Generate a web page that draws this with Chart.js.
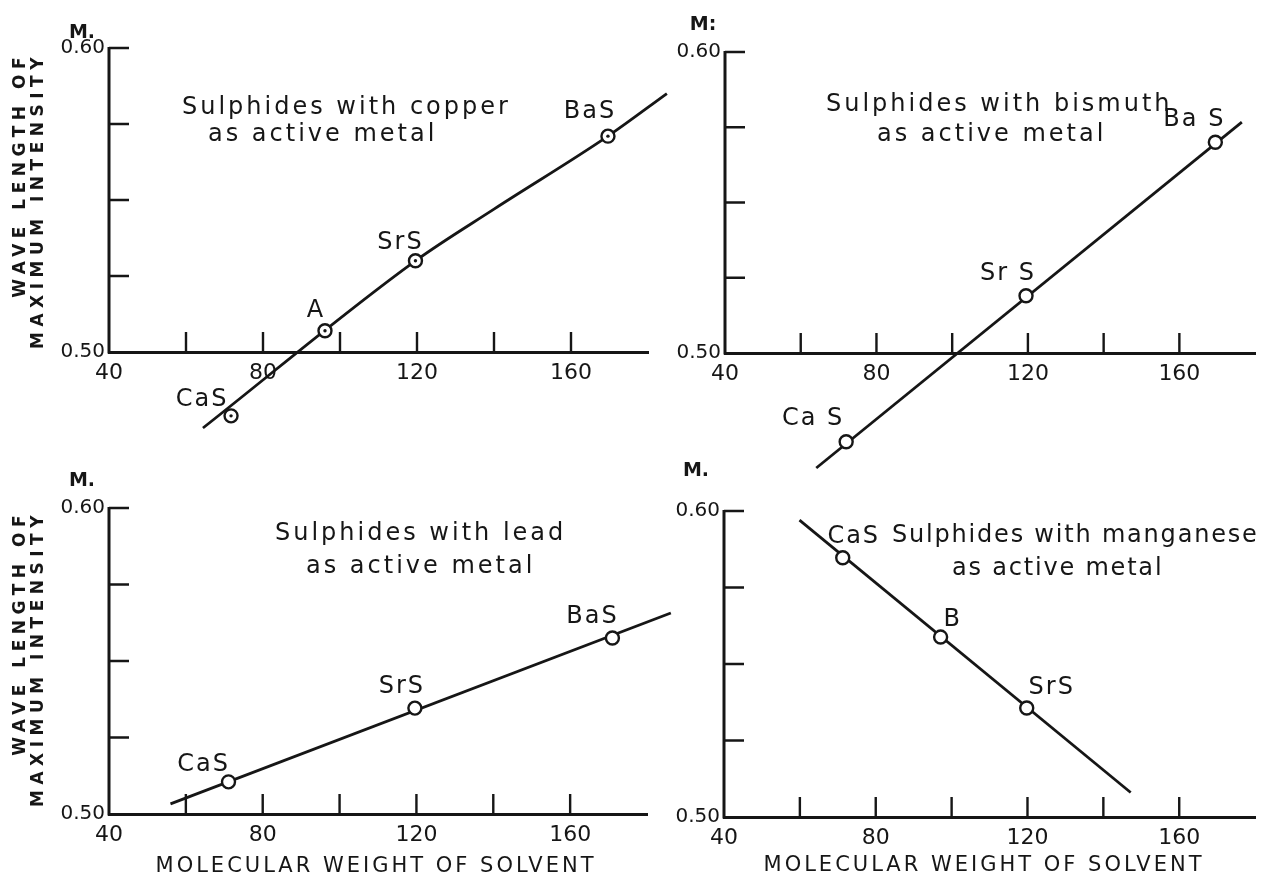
<!DOCTYPE html>
<html lang="en">
<head>
<meta charset="utf-8">
<title>Sulphide phosphors: wave length of maximum intensity</title>
<script src="https://cdn.jsdelivr.net/npm/chart.js@4.4.1/dist/chart.umd.min.js"></script>
<style>
  html, body { margin: 0; padding: 0; background: #fff; overflow: hidden; }
  #sheet { position: relative; width: 1264px; height: 880px; }
  #sheet canvas { position: absolute; left: 0; top: 0; }
</style>
</head>
<body>
<div id="sheet">
  <canvas id="copper" width="1264" height="880"></canvas>
  <canvas id="bismuth" width="1264" height="880"></canvas>
  <canvas id="lead" width="1264" height="880"></canvas>
  <canvas id="manganese" width="1264" height="880"></canvas>
</div>
<script>
// ---- axes -------------------------------------------------------------
// x: molecular weight of the solvent sulphide
const weightMin = 40;
const weightMax = 180;
const weightStep = 20;
const weightLabels = [40, 80, 120, 160];
// y: wave length of maximum intensity, in microns
const waveMin = 0.50;
const waveMax = 0.60;
const waveStep = 0.025;
const waveLabels = [0.50, 0.60];

// ---- copper as active metal ---------------------------------------------
const copperNames = ['CaS', 'A', 'SrS', 'BaS'];
const copperWeights = [71.7, 96.1, 119.6, 169.6];
const copperWaves = [0.479, 0.507, 0.530, 0.571];
const copperCurveWeights = [64.4, 119.6, 140.0, 169.6, 184.9];
const copperCurveWaves = [0.475, 0.530, 0.547, 0.571, 0.585];

// ---- bismuth as active metal --------------------------------------------
const bismuthNames = ['Ca S', 'Sr S', 'Ba S'];
const bismuthWeights = [72.0, 119.5, 169.5];
const bismuthWaves = [0.4705, 0.519, 0.570];
const bismuthCurveWeights = [64.1, 176.5];
const bismuthCurveWaves = [0.4618, 0.5767];

// ---- lead as active metal -----------------------------------------------
const leadNames = ['CaS', 'SrS', 'BaS'];
const leadWeights = [71.1, 119.6, 171.0];
const leadWaves = [0.5105, 0.5346, 0.5575];
const leadCurveWeights = [56.0, 186.2];
const leadCurveWaves = [0.5033, 0.5657];

// ---- manganese as active metal ------------------------------------------
const manganeseNames = ['CaS', 'B', 'SrS'];
const manganeseWeights = [71.3, 97.1, 119.8];
const manganeseWaves = [0.5847, 0.5588, 0.5356];
const manganeseCurveWeights = [59.9, 147.2];
const manganeseCurveWaves = [0.597, 0.508];

// ---- drawing setup ----------------------------------------------------
const INK = '#161616';
const FONT = "'DejaVu Sans', 'Liberation Sans', Arial, sans-serif";
const SHEET_W = 1264;
const SHEET_H = 880;
const Y_SCALE_W = 60;

const near = (a, b) => Math.abs(a - b) < 1e-6;

// Inner tick marks, the wave-length spine and all the lettering.
const sheetArt = {
  id: 'sheetArt',
  beforeDatasetsDraw(chart, _args, o) {
    const { ctx, scales: { x, y } } = chart;
    const x0 = x.getPixelForValue(weightMin);
    const yBase = y.getPixelForValue(waveMin);
    const yTop = y.getPixelForValue(waveMax);
    ctx.save();
    ctx.strokeStyle = INK;
    ctx.lineWidth = 3;
    ctx.beginPath();
    ctx.moveTo(x0, yBase + 1.5);
    ctx.lineTo(x0, yTop - 1);
    ctx.stroke();
    ctx.lineWidth = 2.4;
    ctx.beginPath();
    x.ticks.forEach(t => {
      if (t.value > weightMin + 1e-6 && t.value < weightMax - 1e-6) {
        const px = x.getPixelForValue(t.value);
        ctx.moveTo(px, yBase);
        ctx.lineTo(px, yBase - o.tickLength);
      }
    });
    y.ticks.forEach(t => {
      if (t.value > waveMin + 1e-6 && t.value < waveMax + 1e-6) {
        const py = y.getPixelForValue(t.value);
        ctx.moveTo(x0, py);
        ctx.lineTo(x0 + o.tickLength, py);
      }
    });
    ctx.stroke();
    ctx.restore();
  },
  afterDraw(chart, _args, o) {
    const { ctx, scales: { x, y } } = chart;
    const x0 = x.getPixelForValue(weightMin);
    const yBase = y.getPixelForValue(waveMin);
    const yTop = y.getPixelForValue(waveMax);
    ctx.save();
    ctx.fillStyle = INK;

    // unit mark above the wave-length axis
    ctx.font = `bold 19px ${FONT}`;
    ctx.textAlign = 'center';
    ctx.textBaseline = 'middle';
    ctx.fillText(o.unit, x0 + o.unitAt[0], yTop + o.unitAt[1]);

    // panel heading
    ctx.font = `24px ${FONT}`;
    ctx.letterSpacing = `${o.titleSpacing}px`;
    ctx.textAlign = 'left';
    ctx.textBaseline = 'alphabetic';
    o.title.forEach((line, i) => {
      ctx.fillText(line, x0 + o.titleAt[i][0], yTop + o.titleAt[i][1]);
    });

    // names of the sulphides beside their points
    const meta = chart.getDatasetMeta(1);
    ctx.font = `24px ${FONT}`;
    ctx.letterSpacing = '2px';
    ctx.textAlign = 'center';
    ctx.textBaseline = 'middle';
    o.names.forEach((name, i) => {
      const el = meta.data[i];
      ctx.fillText(name, el.x + o.nameAt[i][0], el.y + o.nameAt[i][1]);
    });

    // axis titles
    if (o.yTitle) {
      ctx.save();
      ctx.font = `bold 17px ${FONT}`;
      ctx.letterSpacing = '5.5px';
      ctx.textAlign = 'right';
      ctx.textBaseline = 'middle';
      ctx.translate(x0 + o.yTitleAt[0], yTop + o.yTitleAt[1]);
      ctx.rotate(-Math.PI / 2);
      o.yTitle.forEach((line, i) => ctx.fillText(line, 0, i * 18));
      ctx.restore();
    }
    if (o.xTitle) {
      ctx.font = `21px ${FONT}`;
      ctx.letterSpacing = '3px';
      ctx.textAlign = 'center';
      ctx.textBaseline = 'middle';
      ctx.fillText(o.xTitle, x0 + o.xTitleAt[0], yBase + o.xTitleAt[1]);
    }
    ctx.restore();
  }
};

const Y_TITLE = ['WAVE LENGTH OF', 'MAXIMUM INTENSITY'];
const X_TITLE = 'MOLECULAR WEIGHT OF SOLVENT';

const panels = [
  {
    canvas: 'copper', frame: { l: 109, t: 48, r: 648, b: 352 },
    weights: copperWeights, waves: copperWaves,
    curveWeights: copperCurveWeights, curveWaves: copperCurveWaves,
    centreDots: true, smooth: true,
    art: {
      unit: 'M.', unitAt: [-27, -15],
      title: ['Sulphides with copper', 'as active metal'], titleAt: [[73, 66], [99, 93]],
      titleSpacing: 3,
      names: copperNames, nameAt: [[-29, -16], [-9, -20], [-15, -18], [-18, -24]],
      yTitle: Y_TITLE, yTitleAt: [-88, 4]
    }
  },
  {
    canvas: 'bismuth', frame: { l: 725, t: 52, r: 1263, b: 353 },
    weights: bismuthWeights, waves: bismuthWaves,
    curveWeights: bismuthCurveWeights, curveWaves: bismuthCurveWaves,
    art: {
      unit: 'M:', unitAt: [-22, -27],
      title: ['Sulphides with bismuth', 'as active metal'], titleAt: [[101, 59], [152, 89]],
      titleSpacing: 3,
      names: bismuthNames, nameAt: [[-33, -23], [-18, -22], [-21, -23]]
    }
  },
  {
    canvas: 'lead', frame: { l: 109, t: 508, r: 647, b: 814 },
    weights: leadWeights, waves: leadWaves,
    curveWeights: leadCurveWeights, curveWaves: leadCurveWaves,
    art: {
      unit: 'M.', unitAt: [-27, -27],
      title: ['Sulphides with lead', 'as active metal'], titleAt: [[166, 32], [197, 65]],
      titleSpacing: 3,
      names: leadNames, nameAt: [[-25, -17], [-13, -21], [-20, -21]],
      yTitle: Y_TITLE, yTitleAt: [-88, 2],
      xTitle: X_TITLE, xTitleAt: [267, 53]
    }
  },
  {
    canvas: 'manganese', frame: { l: 724, t: 511, r: 1262, b: 817 },
    weights: manganeseWeights, waves: manganeseWaves,
    curveWeights: manganeseCurveWeights, curveWaves: manganeseCurveWaves,
    art: {
      unit: 'M.', unitAt: [-28, -40],
      title: ['Sulphides with manganese', 'as active metal'], titleAt: [[168, 31], [228, 64]],
      titleSpacing: 1.8,
      names: manganeseNames, nameAt: [[11, -21], [12, -17], [25, -20]],
      xTitle: X_TITLE, xTitleAt: [260, 49]
    }
  }
];

function buildChart(p) {
  const { l, t, r, b } = p.frame;
  const pxPerUnit = (b - t) / (waveMax - waveMin);
  // let the wave-length scale run below 0.50 far enough to hold every point
  const floor = Math.min(waveMin, Math.min(...p.waves) - 0.006);
  const areaBottom = b + (waveMin - floor) * pxPerUnit;

  const points = p.weights.map((w, i) => ({ x: w, y: p.waves[i] }));
  const curve = p.curveWeights.map((w, i) => ({ x: w, y: p.curveWaves[i] }));

  const datasets = [
    {
      data: curve, showLine: true, borderColor: INK, borderWidth: 2.8,
      pointRadius: 0, clip: false, tension: 0,
      cubicInterpolationMode: p.smooth ? 'monotone' : 'default', order: 3
    },
    {
      data: points, showLine: false, pointStyle: 'circle', pointRadius: 6.5,
      pointBorderWidth: 2.4, pointBorderColor: INK, pointBackgroundColor: '#fff',
      clip: false, order: 2
    }
  ];
  if (p.centreDots) {
    datasets.push({
      data: points, showLine: false, pointRadius: 1.7, pointBorderWidth: 0,
      pointBackgroundColor: INK, clip: false, order: 1
    });
  }

  return new Chart(document.getElementById(p.canvas), {
    type: 'scatter',
    data: { datasets },
    options: {
      responsive: false,
      animation: false,
      devicePixelRatio: 1,
      events: [],
      layout: {
        padding: { left: l - Y_SCALE_W, top: t, right: SHEET_W - r, bottom: SHEET_H - areaBottom }
      },
      plugins: {
        legend: { display: false },
        tooltip: { enabled: false },
        sheetArt: Object.assign({ tickLength: 20 }, p.art)
      },
      scales: {
        x: {
          type: 'linear',
          position: { y: waveMin },
          min: weightMin, max: weightMax,
          grid: { display: false, drawTicks: false },
          border: { display: true, width: 3, color: INK },
          ticks: {
            stepSize: weightStep, autoSkip: false, maxRotation: 0, padding: 8,
            color: INK, font: { family: FONT, size: 22 },
            callback: v => (weightLabels.some(w => near(w, v)) ? String(v) : '')
          }
        },
        y: {
          type: 'linear',
          min: floor, max: waveMax,
          grid: { display: false, drawTicks: false },
          border: { display: false },
          ticks: {
            stepSize: waveStep, includeBounds: false, autoSkip: false, padding: 4,
            color: INK, font: { family: FONT, size: 20 },
            callback: v => (waveLabels.some(w => near(w, v)) ? v.toFixed(2) : '')
          },
          afterFit: scale => { scale.width = Y_SCALE_W; }
        }
      }
    },
    plugins: [sheetArt]
  });
}

panels.forEach(buildChart);
</script>
</body>
</html>
